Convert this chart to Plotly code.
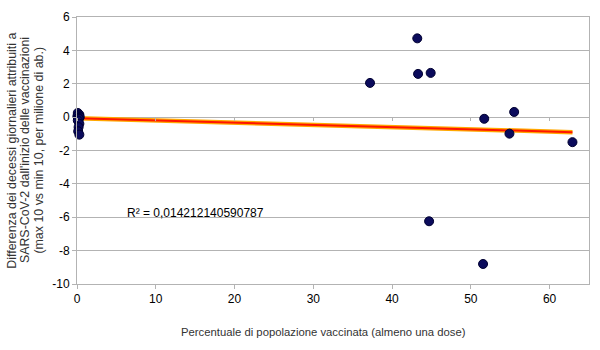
import numpy as np
import plotly.graph_objects as go

# Percentage of population vaccinated (at least one dose)
vaccinated_pct = [
    0.10, 0.30, 0.20, 0.05, 0.35, 0.15, 0.25, 0.10, 0.30, 0.20, 0.15, 0.30,
    37.2, 43.2, 43.3, 44.9, 44.7, 51.7, 51.55, 55.5, 54.9, 62.9,
]
# Difference in daily deaths per million (max 10 vs min 10)
death_diff = [
    0.25, 0.15, 0.10, 0.05, 0.00, -0.05, -0.10, -0.20, -0.40, -0.60, -0.85, -1.05,
    2.05, 4.72, 2.59, 2.65, -6.24, -0.10, -8.80, 0.31, -0.99, -1.50,
]
r2_label = "R² = 0,014212140590787"

x_ticks = [0, 10, 20, 30, 40, 50, 60]
y_ticks = [-10, -8, -6, -4, -2, 0, 2, 4, 6]
y_tick_text = [str(v) for v in y_ticks]  # plain hyphen-minus labels

y_title_lines = [
    "Differenza dei decessi giornalieri attribuiti a",
    "SARS-CoV-2 dall'inizio delle vaccinazioni",
    "(max 10 vs min 10, per milione di ab.)",
]
x_title = "Percentuale di popolazione vaccinata (almeno una dose)"

x = np.array(vaccinated_pct)
y = np.array(death_diff)
slope, intercept = np.polyfit(x, y, 1)
fit_x = np.array([x.min(), x.max()])
fit_y = slope * fit_x + intercept

FONT = "Liberation Sans"
GRID = "#b3b3b3"
L, R, T, B = 77, 10, 14, 66
PW, PH = 600 - L - R, 350 - T - B

fig = go.Figure()
# linear trend line: orange halo with a red core
fig.add_trace(go.Scatter(x=fit_x, y=fit_y, mode="lines",
                         line=dict(color="#ffa800", width=4.5),
                         hoverinfo="skip", showlegend=False))
fig.add_trace(go.Scatter(x=fit_x, y=fit_y, mode="lines",
                         line=dict(color="#ff1500", width=2),
                         hoverinfo="skip", showlegend=False))
fig.add_trace(go.Scatter(x=x, y=y, mode="markers", cliponaxis=False,
                         marker=dict(size=9, color="#0b0b5c",
                                     line=dict(color="#000030", width=1)),
                         showlegend=False))
# invisible trace so the zero-line tick axis is drawn
fig.add_trace(go.Scatter(x=[0], y=[0], xaxis="x2", mode="markers",
                         marker=dict(opacity=0), hoverinfo="skip",
                         showlegend=False))

annotations = [
    dict(text=r2_label, x=6.1, y=-5.73, xref="x", yref="y",
         xanchor="left", yanchor="middle", showarrow=False,
         font=dict(family=FONT, size=12, color="#000000")),
    dict(text=x_title, x=(324 - L) / PW, y=-(333 - (T + PH)) / PH,
         xref="paper", yref="paper", xanchor="center", yanchor="middle",
         showarrow=False, font=dict(family=FONT, size=11.3, color="#333333")),
]
# rotated y-axis title, one annotation per line for tight line spacing
for line, cx in zip(y_title_lines, [11, 24.5, 38]):
    annotations.append(dict(
        text=line, x=(cx - L) / PW, y=0.5, xref="paper", yref="paper",
        xanchor="center", yanchor="middle", textangle=-90, showarrow=False,
        font=dict(family=FONT, size=12.4, color="#333333")))

fig.update_layout(
    width=600, height=350,
    margin=dict(l=L, r=R, t=T, b=B),
    paper_bgcolor="white", plot_bgcolor="white",
    font=dict(family=FONT, size=12, color="#000000"),
    xaxis=dict(range=[0, 65], tickvals=x_ticks, showgrid=False, zeroline=False,
               showline=True, linecolor=GRID, linewidth=1, mirror=True,
               ticks="outside", ticklen=4, tickcolor=GRID,
               tickfont=dict(family=FONT, size=12, color="#000000")),
    xaxis2=dict(range=[0, 65], tickvals=x_ticks, overlaying="x", anchor="free",
                position=0.625, showgrid=False, zeroline=False, showline=False,
                showticklabels=False, ticks="outside", ticklen=3, tickcolor=GRID),
    yaxis=dict(range=[-10, 6], tickvals=y_ticks, ticktext=y_tick_text,
               showgrid=True, gridcolor=GRID, gridwidth=1, zeroline=False,
               showline=True, linecolor=GRID, linewidth=1, mirror=True,
               ticks="outside", ticklen=4, tickcolor=GRID,
               tickfont=dict(family=FONT, size=12, color="#000000")),
    annotations=annotations,
)

fig.write_html("out.html")
